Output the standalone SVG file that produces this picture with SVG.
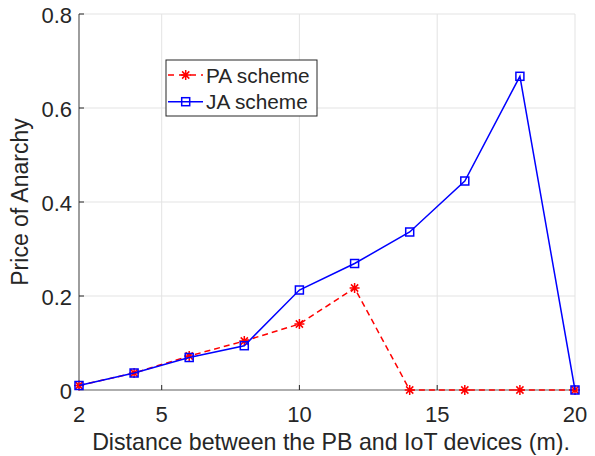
<svg xmlns="http://www.w3.org/2000/svg" width="595" height="456" viewBox="0 0 595 456">
<style>
.grid{stroke:#e3e3e3;stroke-width:1;fill:none}
.axis{stroke:#5e5e5e;stroke-width:1.2;fill:none}
.tick{stroke:#262626;stroke-width:1;fill:none}
.lbl{font-family:"Liberation Sans",Arial,sans-serif;font-size:22px;fill:#262626}
.pa{stroke:#ff0000;stroke-width:1.5;fill:none;stroke-dasharray:6,4}
.ja{stroke:#0000ff;stroke-width:1.5;fill:none}
.star{stroke:#ff0000;stroke-width:1.5;fill:none}
.sq{stroke:#0000ff;stroke-width:1.5;fill:none}
</style>
<defs>
<path id="star" d="M-5,0H5M0,-5V5M-3.6,-3.6L3.6,3.6M-3.6,3.6L3.6,-3.6"/>
<rect id="sqm" x="-4" y="-4" width="8" height="8"/>
</defs>
<rect width="595" height="456" fill="#ffffff"/>
<g id="grid">
<path class="grid" d="M161.7,14V390M299.4,14V390M437.2,14V390M575,14V390M79,14H575M79,108H575M79,202H575M79,296H575"/>
</g>
<g id="axes">
<path class="axis" d="M79,14V390H575"/>
<path class="tick" d="M79,14h5M79,108h5M79,202h5M79,296h5M161.7,390v-5M299.4,390v-5M437.2,390v-5"/>
<g class="lbl" text-anchor="end">
<text x="72" y="399">0</text>
<text x="72" y="305">0.2</text>
<text x="72" y="211">0.4</text>
<text x="72" y="117">0.6</text>
<text x="72" y="23">0.8</text>
</g>
<g class="lbl" text-anchor="middle">
<text x="79" y="421.5">2</text>
<text x="161.7" y="421.5">5</text>
<text x="299.4" y="421.5">10</text>
<text x="437.2" y="421.5">15</text>
<text x="575" y="421.5">20</text>
</g>
<text class="lbl" x="331" y="450" text-anchor="middle" style="font-size:23.2px">Distance between the PB and IoT devices (m).</text>
<text class="lbl" transform="translate(28,202) rotate(-90)" text-anchor="middle" style="font-size:23px">Price of Anarchy</text>
</g>
<g id="series-pa">
<polyline class="pa" points="79,385.5 134.1,373 189.2,356 244.3,341 299.4,324 354.6,288 409.7,390 464.8,390 519.9,390 575,390"/>
<g class="star">
<use href="#star" x="79" y="385.5"/>
<use href="#star" x="134.1" y="373"/>
<use href="#star" x="189.2" y="356"/>
<use href="#star" x="244.3" y="341"/>
<use href="#star" x="299.4" y="324"/>
<use href="#star" x="354.6" y="288"/>
<use href="#star" x="409.7" y="390"/>
<use href="#star" x="464.8" y="390"/>
<use href="#star" x="519.9" y="390"/>
<use href="#star" x="575" y="390"/>
</g>
</g>
<g id="series-ja">
<polyline class="ja" points="79,385.5 134.1,373 189.2,357.5 244.3,345.7 299.4,290 354.6,263.5 409.7,232 464.8,181 519.9,76.3 575,390"/>
<g class="sq">
<use href="#sqm" x="79" y="385.5"/>
<use href="#sqm" x="134.1" y="373"/>
<use href="#sqm" x="189.2" y="357.5"/>
<use href="#sqm" x="244.3" y="345.7"/>
<use href="#sqm" x="299.4" y="290"/>
<use href="#sqm" x="354.6" y="263.5"/>
<use href="#sqm" x="409.7" y="232"/>
<use href="#sqm" x="464.8" y="181"/>
<use href="#sqm" x="519.9" y="76.3"/>
<use href="#sqm" x="575" y="390"/>
</g>
</g>
<g id="legend">
<rect x="166" y="60" width="151" height="56" fill="#ffffff" stroke="#262626" stroke-width="1"/>
<line class="pa" x1="168" y1="75" x2="203" y2="75" style="stroke-dasharray:6,5"/>
<use class="star" href="#star" x="185.7" y="75"/>
<line class="ja" x1="168" y1="101.7" x2="203" y2="101.7"/>
<use class="sq" href="#sqm" x="185.7" y="101.7"/>
<text class="lbl" x="206" y="82.5" style="font-size:20.8px">PA scheme</text>
<text class="lbl" x="206" y="109" style="font-size:20.8px">JA scheme</text>
</g>
</svg>
